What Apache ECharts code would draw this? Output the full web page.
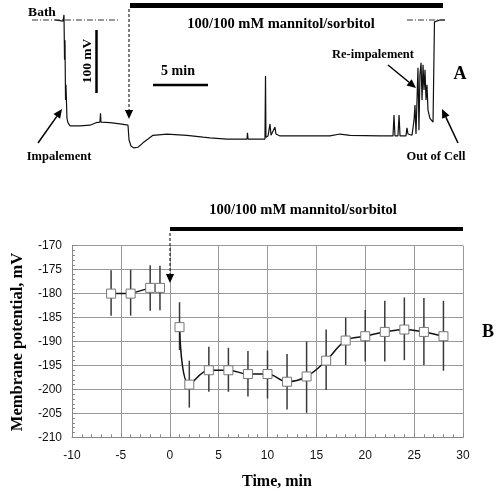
<!DOCTYPE html>
<html><head><meta charset="utf-8">
<script src="https://cdn.jsdelivr.net/npm/echarts@6/dist/echarts.min.js"></script>
<style>html,body{margin:0;padding:0;background:#fff}#c{width:500px;height:492px}</style>
</head><body><div id="c"></div>
<script>
// ---- Panel A: raw recording trace (time in min, relative to solution change; potential in mV)
const traceTime = [-6.73,-6.27,-6.09,-6.0,-5.91,-5.86,-5.82,-5.77,-5.73,-5.64,-5.55,-5.36,-4.45,-3.55,-3.0,-2.64,-2.59,-2.55,-1.73,-0.82,-0.09,0,0.18,0.45,0.82,1.27,1.73,2.18,2.36,3.45,5.27,6.73,7.36,8.91,10.73,10.77,10.82,12.36,12.41,12.45,12.64,12.82,12.91,13.09,13.27,13.36,13.73,15.55,18.27,19.18,20.09,22.82,24.0,24.09,24.18,24.45,24.55,24.64,25.18,25.27,25.36,25.73,25.91,26.0,26.09,26.18,26.27,26.36,26.45,26.55,26.64,26.73,26.82,26.91,27.0,27.09,27.18,27.36,27.64,27.73,27.77,27.91,28.27,28.73];
const traceMv = [0,-1,-2,-2,8,-63,-32,-127,-103,-156,-163,-168,-168,-167,-163,-162,-148,-162,-163,-165,-167,-190,-200,-203,-202,-195,-189,-183,-181,-181,-183,-186,-187,-189,-189,-179,-189,-189,-89,-186,-184,-165,-183,-181,-170,-181,-184,-184,-184,-181,-183,-184,-184,-151,-184,-184,-151,-184,-184,-171,-181,-183,-159,-135,-181,-183,-76,-175,-87,-68,-127,-71,-111,-79,-127,-103,-143,-156,-162,-162,-3,-2,0,0];
const bathLeft = [-8.82, -1.0];
const bathRight = [25.27, 28.73];

// ---- Panel B: mean membrane potential with error bars
const preTime = [-6, -4, -2, -1];
const preMv = [-180, -180, -178.8, -178.8];
const preHigh = [-175.1, -175, -174.1, -174.2];
const preLow = [-184.6, -184.6, -183.6, -183.5];
const postTime = [1, 2, 4, 6, 8, 10, 12, 14, 16, 18, 20, 22, 24, 26, 28];
const postMv = [-187, -199, -196, -196, -196.8, -196.8, -198.4, -197.3, -194, -189.8, -188.9, -188, -187.5, -188, -188.9];
const postHigh = [-181.8, -194, -191.1, -191.3, -192, -191.9, -192.6, -190, -187.5, -185, -183.4, -181.5, -180.8, -180.9, -181.5];
const postLow = [-191.8, -203.8, -200.5, -200.5, -201.5, -201.9, -204.2, -204.9, -200.1, -194.9, -194.2, -194.2, -193.9, -194.9, -196.1];
const xTicks = [-10, 30, 5];   // min, max, step
const yTicks = [-210, -170, 5];

const SERIF = '"Liberation Serif", "Times New Roman", serif';
const SANS = '"Liberation Sans", Arial, sans-serif';

const traceData = traceTime.map((t, i) => [t, traceMv[i]]);
const zip = (a, b) => a.map((v, i) => [v, b[i]]);
const errData = preTime.map((t, i) => [t, preHigh[i], preLow[i]])
  .concat(postTime.map((t, i) => [t, postHigh[i], postLow[i]]));

function txt(x, y, s, size, extra) {
  return Object.assign({ type: 'text', x: x, y: y, z: 100,
    style: { text: s, font: 'bold ' + size + 'px ' + SERIF, fill: '#000', align: 'center', verticalAlign: 'middle' } }, extra || {});
}
function seg(x1, y1, x2, y2, w, dash) {
  return { type: 'line', z: 100, shape: { x1, y1, x2, y2 }, style: { stroke: '#000', lineWidth: w, lineDash: dash || null } };
}
function arrow(x1, y1, x2, y2, w, dash, head) {
  const a = Math.atan2(y2 - y1, x2 - x1), L = head || 8, W = L * 0.45;
  const bx = x2 - L * Math.cos(a), by = y2 - L * Math.sin(a);
  const px = -Math.sin(a) * W, py = Math.cos(a) * W;
  return [seg(x1, y1, bx, by, w, dash),
    { type: 'polygon', z: 100, shape: { points: [[x2, y2], [bx + px, by + py], [bx - px, by - py]] }, style: { fill: '#000' } }];
}

const graphics = [].concat(
  // panel A annotations
  [txt(42, 13, 'Bath', 13.5)],
  [txt(88, 61, '100 mV', 13.5, { rotation: Math.PI / 2 })],
  [seg(96.5, 30, 96.5, 93, 2.5)],
  [txt(178, 71, '5 min', 14)],
  [seg(153, 85, 208, 85, 2.5)],
  [seg(130, 5.5, 443, 5.5, 5)],
  [txt(281, 24, '100/100 mM mannitol/sorbitol', 14.5)],
  arrow(129, 9, 129, 119, 1, [3, 2], 9),
  [txt(59, 157, 'Impalement', 12.5)],
  arrow(38, 143, 62, 109, 1.5, null, 9),
  [txt(373, 55, 'Re-impalement', 12.5)],
  arrow(388, 65, 416, 88, 1.5, null, 9),
  [txt(436, 157, 'Out of Cell', 12.5)],
  arrow(458, 143, 442, 109, 1.5, null, 9),
  [txt(460, 74, 'A', 18)],
  // panel B annotations
  [seg(170, 229, 463, 229, 4)],
  [txt(303, 210, '100/100 mM mannitol/sorbitol', 14.5)],
  arrow(170, 233, 170, 283, 1, [3, 2], 9),
  [txt(488, 332, 'B', 18)],
  [txt(18, 342, 'Membrane potential, mV', 16.5, { rotation: Math.PI / 2 })],
  [txt(277, 482, 'Time, min', 16)]
);

const chart = echarts.init(document.getElementById('c'), null, { renderer: 'canvas' });
chart.setOption({
  animation: false,
  backgroundColor: '#fff',
  grid: [
    { left: 30, width: 440, top: 13.7, height: 138.6 },
    { left: 72, width: 391, top: 245.7, height: 191.6 }
  ],
  xAxis: [
    { gridIndex: 0, type: 'value', min: -9, max: 31, show: false },
    { gridIndex: 1, type: 'value', min: xTicks[0], max: xTicks[1], interval: xTicks[2],
      axisLine: { show: true, onZero: false, lineStyle: { color: '#888', width: 1 } },
      axisTick: { show: true, inside: true, length: 4, lineStyle: { color: '#888' } },
      minorTick: { show: true, splitNumber: 5, length: 3, lineStyle: { color: '#888' } },
      splitLine: { show: true, lineStyle: { color: '#9a9a9a', width: 1 } },
      axisLabel: { color: '#111', fontFamily: SANS, fontSize: 12, margin: 12 } }
  ],
  yAxis: [
    { gridIndex: 0, type: 'value', min: -210, max: 10, show: false },
    { gridIndex: 1, type: 'value', min: yTicks[0], max: yTicks[1], interval: yTicks[2],
      axisLine: { show: true, onZero: false, lineStyle: { color: '#888', width: 1 } },
      axisTick: { show: true, inside: true, length: 4, lineStyle: { color: '#888' } },
      minorTick: { show: true, splitNumber: 5, length: 3, lineStyle: { color: '#888' } },
      splitLine: { show: true, lineStyle: { color: '#9a9a9a', width: 1 } },
      axisLabel: { color: '#111', fontFamily: SANS, fontSize: 12, margin: 10 } }
  ],
  series: [
    { type: 'line', xAxisIndex: 0, yAxisIndex: 0, data: traceData, showSymbol: false,
      lineStyle: { color: '#111', width: 1.2 }, clip: false },
    { type: 'line', xAxisIndex: 0, yAxisIndex: 0, data: [[bathLeft[0], 0], [bathLeft[1], 0]], showSymbol: false,
      lineStyle: { color: '#333', width: 1, type: [6, 2, 1, 2] } },
    { type: 'line', xAxisIndex: 0, yAxisIndex: 0, data: [[bathRight[0], 0], [bathRight[1], 0]], showSymbol: false,
      lineStyle: { color: '#333', width: 1, type: [6, 2, 1, 2] } },
    { type: 'custom', xAxisIndex: 1, yAxisIndex: 1, z: 1, data: errData,
      encode: { x: 0, y: [1, 2] },
      renderItem: function (params, api) {
        const p1 = api.coord([api.value(0), api.value(1)]);
        const p2 = api.coord([api.value(0), api.value(2)]);
        return { type: 'line', shape: { x1: p1[0], y1: p1[1], x2: p2[0], y2: p2[1] },
          style: { stroke: '#3a3a3a', lineWidth: 1.5 } };
      } },
    { type: 'line', xAxisIndex: 1, yAxisIndex: 1, z: 5, data: zip(preTime, preMv),
      symbol: 'rect', symbolSize: 9, showAllSymbol: true,
      itemStyle: { color: '#fff', borderColor: '#777', borderWidth: 1 },
      lineStyle: { color: '#111', width: 1.5 } },
    { type: 'line', xAxisIndex: 1, yAxisIndex: 1, z: 5, data: zip(postTime, postMv), smooth: 0.4,
      symbol: 'rect', symbolSize: 9, showAllSymbol: true,
      itemStyle: { color: '#fff', borderColor: '#777', borderWidth: 1 },
      lineStyle: { color: '#111', width: 1.5 } }
  ],
  graphic: graphics
});
</script></body></html>
